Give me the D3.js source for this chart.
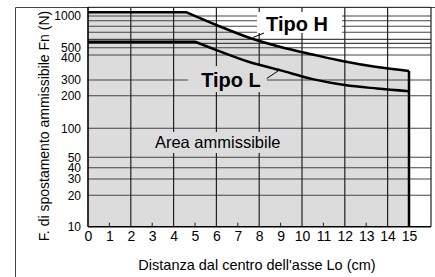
<!DOCTYPE html>
<html>
<head>
<meta charset="utf-8">
<script src="https://cdn.jsdelivr.net/npm/d3@7"></script>
<style>
  body { margin: 0; background: #fff; }
  svg { display: block; font-family: "Liberation Sans", Arial, Helvetica, sans-serif; }
</style>
</head>
<body>
<div id="chart-area"></div>
<script>

//**************** Data *****************//

// distance (cm) ticks
const xTickValues = [0, 1, 2, 3, 4, 5, 6, 7, 8, 9, 10, 11, 12, 13, 14, 15];
const xGridValues = [2, 4, 6, 8, 10, 12, 14];
const xSmallTicks = [1, 3, 5, 7, 9, 11, 13];

// force (N) ticks, the printed axis is not a clean log scale
const yTickValues = [10, 20, 30, 40, 50, 100, 200, 300, 400, 500, 1000];
const yMinorValues = [550, 600, 700, 800, 900];

// Tipo H curve
const hDist = [0, 4.6, 6, 7.5, 9, 10.5, 12, 13.5, 15];
const hForce = [1085, 1085, 821, 625, 508, 406, 371, 348, 333];

// Tipo L curve
const lDist = [0, 5, 6, 7.5, 9, 10.5, 12, 13.5, 15];
const lForce = [570, 570, 465, 370, 335, 303, 263, 241, 225];


//**************** Canvas *****************//

let margin = { left: 88, top: 7 };
let width = 343,
	height = 219.7;

let svg = d3.select('#chart-area').append('svg')
	.attr('width', 435)
	.attr('height', 277);

// outer frame
svg.append('path')
	.attr('d', 'M15.5,277V7.5H435')
	.attr('fill', 'none')
	.attr('stroke', '#444')
	.attr('stroke-width', 1);

let g = svg.append('g')
	.attr('transform', 'translate(' + margin.left + ', ' + margin.top + ')');


//**************** Scales *****************//

let x = d3.scaleLinear()
	.domain([0, 15])
	.range([0, 321]);

// piecewise log scale, follows the printed tick spacing
let y = d3.scaleLog()
	.domain([10, 20, 30, 40, 50, 100, 200, 300, 400, 500, 1000, 1220])
	.range([height, 188.3, 172, 160.7, 150.3, 121.3, 88.7, 73, 48, 40.7, 9, 0]);


//**************** Curves *****************//

let hPts = hDist.map((d, i) => [d, hForce[i]]);
let lPts = lDist.map((d, i) => [d, lForce[i]]);

let straight = d3.line()
	.x(d => x(d[0]))
	.y(d => y(d[1]));

let smooth = d3.line()
	.x(d => x(d[0]))
	.y(d => y(d[1]))
	.curve(d3.curveMonotoneX);

// flat part then smooth drop, kept as one path so the corner stays sharp
function curvePath(pts) {
	return straight(pts.slice(0, 2)) + smooth(pts.slice(1)).replace(/^M/, 'L');
}

// allowed area under Tipo H
g.append('path')
	.attr('d', curvePath(hPts) +
		'L' + x(15) + ',' + y(10) + 'L' + x(0) + ',' + y(10) + 'Z')
	.attr('fill', '#dcdcdc');


//**************** Grid *****************//

g.selectAll('.h-grid')
	.data(yTickValues.slice(1).concat(yMinorValues))
	.enter().append('line')
		.attr('class', 'h-grid')
		.attr('x1', 0)
		.attr('x2', width)
		.attr('y1', d => y(d))
		.attr('y2', d => y(d))
		.attr('stroke', '#444')
		.attr('stroke-width', 1.1);

g.selectAll('.v-grid')
	.data(xGridValues)
	.enter().append('line')
		.attr('class', 'v-grid')
		.attr('x1', d => x(d))
		.attr('x2', d => x(d))
		.attr('y1', 0)
		.attr('y2', height)
		.attr('stroke', '#222')
		.attr('stroke-width', 1.2);

g.selectAll('.small-tick')
	.data(xSmallTicks)
	.enter().append('line')
		.attr('class', 'small-tick')
		.attr('x1', d => x(d))
		.attr('x2', d => x(d))
		.attr('y1', height - 4)
		.attr('y2', height)
		.attr('stroke', '#222')
		.attr('stroke-width', 1);

// label backgrounds cut the grid
g.append('rect')
	.attr('x', 169).attr('y', 5)
	.attr('width', 85).attr('height', 21)
	.attr('fill', '#fff');

g.append('rect')
	.attr('x', 100).attr('y', 59)
	.attr('width', 79).attr('height', 26)
	.attr('fill', '#dcdcdc');

g.append('rect')
	.attr('x', 62).attr('y', 125)
	.attr('width', 135).attr('height', 21)
	.attr('fill', '#dcdcdc');

// frame of the plot
g.append('line')
	.attr('x1', 0).attr('x2', width)
	.attr('y1', 0.3).attr('y2', 0.3)
	.attr('stroke', '#333').attr('stroke-width', 1);

g.append('line')
	.attr('x1', width).attr('x2', width)
	.attr('y1', 0).attr('y2', height)
	.attr('stroke', '#222').attr('stroke-width', 1.2);

g.append('line')
	.attr('x1', 0).attr('x2', 0)
	.attr('y1', 0).attr('y2', height)
	.attr('stroke', '#000').attr('stroke-width', 1.6);

g.append('line')
	.attr('x1', 0).attr('x2', width)
	.attr('y1', height).attr('y2', height)
	.attr('stroke', '#000').attr('stroke-width', 1.6);

// end of the allowed area at 15 cm
g.append('line')
	.attr('x1', x(15)).attr('x2', x(15))
	.attr('y1', y(hForce[hForce.length - 1]))
	.attr('y2', height)
	.attr('stroke', '#000')
	.attr('stroke-width', 2.5);

g.append('path')
	.attr('d', curvePath(hPts))
	.attr('fill', 'none')
	.attr('stroke', '#000')
	.attr('stroke-width', 2.5);

g.append('path')
	.attr('d', curvePath(lPts))
	.attr('fill', 'none')
	.attr('stroke', '#000')
	.attr('stroke-width', 2.5);


//**************** Labels *****************//

// leader lines
g.append('line')
	.attr('x1', 165).attr('y1', 30.5)
	.attr('x2', 176).attr('y2', 26)
	.attr('stroke', '#000').attr('stroke-width', 1);

g.append('line')
	.attr('x1', 178.7).attr('y1', 71.5)
	.attr('x2', 190).attr('y2', 64)
	.attr('stroke', '#000').attr('stroke-width', 1);

g.append('text')
	.attr('x', 209).attr('y', 23.7)
	.attr('text-anchor', 'middle')
	.attr('font-size', '20px')
	.attr('font-weight', 'bold')
	.text('Tipo H');

g.append('text')
	.attr('x', 143).attr('y', 80.3)
	.attr('text-anchor', 'middle')
	.attr('font-size', '20px')
	.attr('font-weight', 'bold')
	.text('Tipo L');

g.append('text')
	.attr('x', 129.7).attr('y', 140.5)
	.attr('text-anchor', 'middle')
	.attr('font-size', '16.5px')
	.text('Area ammissibile');


//**************** Axes *****************//

let yAxisCall = d3.axisLeft(y)
	.tickValues(yTickValues)
	.tickFormat(d3.format('d'))
	.tickSize(0)
	.tickPadding(7);

let yAxisGroup = g.append('g')
	.attr('class', 'y-axis')
	.call(yAxisCall);

yAxisGroup.select('.domain').remove();
yAxisGroup.selectAll('text')
	.attr('font-size', '12px')
	.attr('font-family', null)
	.attr('fill', '#000');

// the printed 400 sits a little under its line
yAxisGroup.selectAll('.tick')
	.filter(d => d === 400)
	.select('text')
	.attr('y', 2.5);

let xAxisCall = d3.axisBottom(x)
	.tickValues(xTickValues)
	.tickFormat(d3.format('d'))
	.tickSize(0)
	.tickPadding(4);

let xAxisGroup = g.append('g')
	.attr('class', 'x-axis')
	.attr('transform', 'translate(0, ' + height + ')')
	.call(xAxisCall);

xAxisGroup.select('.domain').remove();
xAxisGroup.selectAll('text')
	.attr('font-size', '14px')
	.attr('font-family', null)
	.attr('fill', '#000');

svg.append('text')
	.attr('x', 257)
	.attr('y', 269.5)
	.attr('font-size', '14.5px')
	.attr('text-anchor', 'middle')
	.text('Distanza dal centro dell\'asse Lo (cm)');

svg.append('text')
	.attr('x', -126)
	.attr('y', 48.5)
	.attr('font-size', '14px')
	.attr('text-anchor', 'middle')
	.attr('transform', 'rotate(-90)')
	.text('F. di spostamento ammissibile Fn (N)');

</script>
</body>
</html>
